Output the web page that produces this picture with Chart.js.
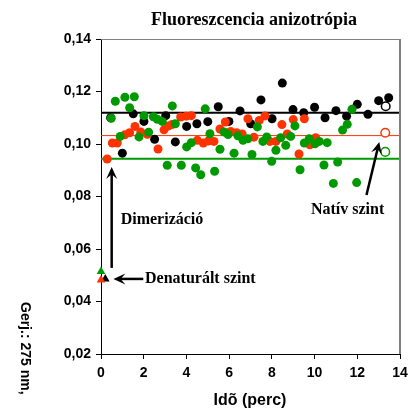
<!DOCTYPE html>
<html>
<head>
<meta charset="utf-8">
<script src="https://cdn.jsdelivr.net/npm/chart.js@4.4.1/dist/chart.umd.min.js"></script>
<style>
  body { margin: 0; background: #fff; }
  #wrap { width: 416px; height: 410px; }
</style>
</head>
<body>
<div id="wrap"><canvas id="myChart" width="416" height="410"></canvas></div>
<script>
// fekete pontok
const idoFekete = [0.45, 1.0, 1.51, 2.01, 2.51, 3.03, 3.48, 4.01, 4.49, 5.0, 5.49, 5.99, 6.51, 7.01, 7.49, 8.01, 8.49, 8.99, 9.49, 10.0, 10.49, 11.0, 11.5, 12.0, 12.5, 13.0, 13.47];
const anizFekete = [0.1100, 0.0965, 0.1115, 0.1086, 0.1018, 0.1108, 0.1008, 0.1067, 0.1077, 0.1085, 0.1142, 0.1086, 0.1126, 0.1077, 0.1168, 0.1096, 0.1232, 0.1131, 0.1119, 0.1140, 0.1100, 0.1127, 0.1106, 0.1151, 0.1113, 0.1165, 0.1176];

// piros pontok
const idoPiros = [0.29, 0.53, 0.76, 1.11, 1.34, 1.59, 1.86, 2.17, 2.67, 2.95, 3.17, 3.32, 3.73, 3.99, 4.23, 4.51, 4.79, 5.02, 5.29, 5.57, 5.82, 6.07, 6.35, 6.61, 6.88, 7.16, 7.41, 7.68, 7.91, 8.19, 8.47, 8.72, 9.0, 9.27, 9.52, 9.78, 10.05];
const anizPiros = [0.0943, 0.1004, 0.1004, 0.1035, 0.1043, 0.1067, 0.1046, 0.1037, 0.0981, 0.1054, 0.1069, 0.1074, 0.1103, 0.1106, 0.1108, 0.1014, 0.1004, 0.1011, 0.1010, 0.1057, 0.1084, 0.1048, 0.1043, 0.1038, 0.1096, 0.1026, 0.1090, 0.1107, 0.1010, 0.1010, 0.1074, 0.1038, 0.1093, 0.0962, 0.1096, 0.0997, 0.1024];

// zold pontok
const idoZold = [0.48, 0.67, 0.9, 1.12, 1.34, 1.56, 1.78, 2.01, 2.23, 2.45, 2.64, 2.87, 3.1, 3.34, 3.48, 3.76, 4.01, 4.23, 4.43, 4.67, 4.88, 5.1, 5.32, 5.57, 5.76, 5.95, 6.23, 6.41, 6.65, 6.88, 7.07, 7.32, 7.58, 7.76, 7.99, 8.19, 8.41, 8.65, 8.88, 9.08, 9.32, 9.52, 9.75, 10.02, 10.22, 10.44, 10.59, 10.88, 11.08, 11.31, 11.53, 11.75, 11.97];
const anizZold = [0.1098, 0.1163, 0.1029, 0.1178, 0.1138, 0.1180, 0.1027, 0.1108, 0.1045, 0.1104, 0.1094, 0.1086, 0.0919, 0.1145, 0.1077, 0.0919, 0.0989, 0.1005, 0.0909, 0.0883, 0.1134, 0.1039, 0.0896, 0.0980, 0.1046, 0.1036, 0.0965, 0.1031, 0.1014, 0.1020, 0.0960, 0.1065, 0.1010, 0.1027, 0.0934, 0.0976, 0.1024, 0.0995, 0.1029, 0.1069, 0.0902, 0.1004, 0.1020, 0.1001, 0.1010, 0.0920, 0.1005, 0.0850, 0.0931, 0.1053, 0.1075, 0.1132, 0.0853];

// fekete, piros, zold sorrendben
const atlagSzint = [0.1119, 0.1032, 0.0944];
const nativIdo = [13.33, 13.31, 13.31];
const nativAniz = [0.1144, 0.1043, 0.0970];
const denatIdo = [0.2, 0.0, 0.0];
const denatAniz = [0.0486, 0.0482, 0.0514];

const xTicks = [0, 2, 4, 6, 8, 10, 12, 14];
const yTicks = [0.02, 0.04, 0.06, 0.08, 0.10, 0.12, 0.14];

const szinek = ["#000000", "#ff3300", "#009900"];

const pontok = (xs, ys) => xs.map((x, i) => ({ x: x, y: ys[i] }));

// feliratok es nyilak (adat koordinatakban)
const feliratok = [
  { text: "Dimerizáció", x: 0.92, y: 0.0710 },
  { text: "Denaturált szint", x: 2.06, y: 0.0486 },
  { text: "Natív szint", x: 9.83, y: 0.0749 }
];
const nyilak = [
  { x1: 0.5, y1: 0.0528, x2: 0.5, y2: 0.0912 },
  { x1: 1.98, y1: 0.0486, x2: 0.58, y2: 0.0486 },
  { x1: 12.43, y1: 0.0806, x2: 13.03, y2: 0.1008 }
];

const rajzolo = {
  id: "rajzolo",
  afterDraw(chart) {
    const ctx = chart.ctx;
    const a = chart.chartArea;
    const xs = chart.scales.x, ys = chart.scales.y;
    ctx.save();
    // keret felul es jobbra
    ctx.strokeStyle = "#808080";
    ctx.lineWidth = 1;
    ctx.beginPath();
    ctx.moveTo(a.left, a.top + 0.5);
    ctx.lineTo(a.right, a.top + 0.5);
    ctx.stroke();
    ctx.lineWidth = 2;
    ctx.beginPath();
    ctx.moveTo(a.right, a.top);
    ctx.lineTo(a.right, a.bottom);
    ctx.stroke();

    // cim
    ctx.fillStyle = "#000";
    ctx.font = "bold 18px 'Liberation Serif'";
    ctx.textAlign = "center";
    ctx.textBaseline = "alphabetic";
    ctx.fillText("Fluoreszcencia anizotrópia", 254, 25);

    // tengely cimek
    ctx.font = "bold 16px 'Liberation Sans'";
    ctx.textBaseline = "middle";
    ctx.fillText("Idõ (perc)", 250, 401);
    ctx.save();
    ctx.translate(25, 302);
    ctx.rotate(Math.PI / 2);
    ctx.textAlign = "left";
    ctx.font = "bold 14px 'Liberation Sans'";
    ctx.fillText("Gerj.: 275 nm,", 0, 0);
    ctx.restore();

    // feliratok
    ctx.font = "bold 16px 'Liberation Serif'";
    ctx.textAlign = "left";
    ctx.textBaseline = "middle";
    for (const f of feliratok) {
      ctx.fillText(f.text, xs.getPixelForValue(f.x), ys.getPixelForValue(f.y));
    }

    // nyilak
    ctx.strokeStyle = "#000";
    ctx.fillStyle = "#000";
    ctx.lineWidth = 2.5;
    for (const n of nyilak) {
      const x1 = xs.getPixelForValue(n.x1), y1 = ys.getPixelForValue(n.y1);
      const x2 = xs.getPixelForValue(n.x2), y2 = ys.getPixelForValue(n.y2);
      const sz = Math.atan2(y2 - y1, x2 - x1);
      const hossz = 12, fel = 5.5;
      ctx.beginPath();
      ctx.moveTo(x1, y1);
      ctx.lineTo(x2 - Math.cos(sz) * 6, y2 - Math.sin(sz) * 6);
      ctx.stroke();
      ctx.save();
      ctx.translate(x2, y2);
      ctx.rotate(sz);
      ctx.beginPath();
      ctx.moveTo(0, 0);
      ctx.lineTo(-hossz, -fel);
      ctx.lineTo(-hossz * 0.6, 0);
      ctx.lineTo(-hossz, fel);
      ctx.closePath();
      ctx.fill();
      ctx.restore();
    }
    ctx.restore();
  }
};

const grafika = document.getElementById("myChart").getContext("2d");

const myChart = new Chart(grafika, {
  type: "scatter",
  data: {
    datasets: [
      {
        label: "denat zold",
        data: [{ x: denatIdo[2], y: denatAniz[2] }],
        pointStyle: "triangle",
        pointRadius: 5,
        backgroundColor: szinek[2],
        borderWidth: 0,
        clip: false
      },
      {
        label: "denat piros",
        data: [{ x: denatIdo[1], y: denatAniz[1] }],
        pointStyle: "triangle",
        pointRadius: 5,
        backgroundColor: szinek[1],
        borderWidth: 0,
        clip: false
      },
      {
        label: "denat fekete",
        data: [{ x: denatIdo[0], y: denatAniz[0] }],
        pointStyle: "triangle",
        pointRadius: 5,
        backgroundColor: szinek[0],
        borderWidth: 0,
        clip: false
      },
      {
        label: "nativ",
        data: pontok(nativIdo, nativAniz),
        pointRadius: 4.3,
        backgroundColor: "#fff",
        borderColor: szinek,
        borderWidth: 1.5,
        clip: false
      },
      {
        label: "zold",
        data: pontok(idoZold, anizZold),
        pointRadius: 4.5,
        backgroundColor: szinek[2],
        borderWidth: 0,
        clip: false
      },
      {
        label: "piros",
        data: pontok(idoPiros, anizPiros),
        pointRadius: 4.5,
        backgroundColor: szinek[1],
        borderWidth: 0,
        clip: false
      },
      {
        label: "fekete",
        data: pontok(idoFekete, anizFekete),
        pointRadius: 4.5,
        backgroundColor: szinek[0],
        borderWidth: 0,
        clip: false
      },
      ...atlagSzint.map((v, i) => ({
        label: "szint" + i,
        data: [{ x: xTicks[0], y: v }, { x: xTicks[xTicks.length - 1], y: v }],
        showLine: true,
        pointRadius: 0,
        borderColor: szinek[i],
        borderWidth: i === 1 ? 1 : 2,
        fill: false
      }))
    ]
  },
  options: {
    responsive: false,
    animation: false,
    events: [],
    layout: { padding: { top: 39, right: 16, left: 0, bottom: 0 } },
    plugins: {
      legend: { display: false },
      tooltip: { enabled: false },
      title: { display: false }
    },
    scales: {
      x: {
        type: "linear",
        min: xTicks[0],
        max: xTicks[xTicks.length - 1],
        afterBuildTicks: (s) => { s.ticks = xTicks.map(v => ({ value: v })); },
        afterFit: (s) => { s.height = 56; },
        border: { display: true, color: "#000", width: 1 },
        grid: { display: true, drawOnChartArea: false, drawTicks: true, tickLength: 5, color: "#000" },
        ticks: {
          color: "#000",
          padding: 6,
          maxRotation: 0,
          font: { family: "'Liberation Sans'", size: 14, weight: "bold" },
          callback: (v) => String(v)
        }
      },
      y: {
        min: yTicks[0],
        max: yTicks[yTicks.length - 1],
        afterBuildTicks: (s) => { s.ticks = yTicks.map(v => ({ value: v })); },
        afterFit: (s) => { s.width = 101; },
        border: { display: true, color: "#000", width: 1 },
        grid: { display: true, drawOnChartArea: false, drawTicks: true, tickLength: 5, color: "#000" },
        ticks: {
          color: "#000",
          padding: 5,
          font: { family: "'Liberation Sans'", size: 14, weight: "bold" },
          callback: (v) => v.toFixed(2).replace(".", ",")
        }
      }
    }
  },
  plugins: [rajzolo]
});
</script>
</body>
</html>
